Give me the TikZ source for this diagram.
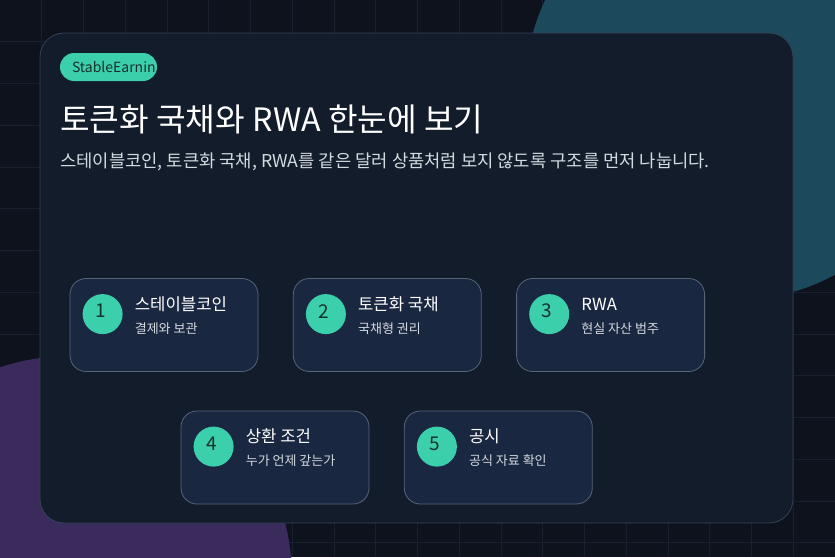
\documentclass[tikz,border=0pt]{standalone}
\usepackage{fontspec}
\setmainfont{Noto Sans CJK KR}
\usetikzlibrary{positioning,calc}

\definecolor{bgdark}{HTML}{0D121C}
\definecolor{gridcol}{HTML}{182030}
\definecolor{tealblob}{HTML}{1C4A5C}
\definecolor{purpleblob}{HTML}{3A2B5C}
\definecolor{cardfill}{HTML}{131C2A}
\definecolor{cardline}{HTML}{334159}
\definecolor{boxfill}{HTML}{1A2740}
\definecolor{boxline}{HTML}{56647A}
\definecolor{mint}{HTML}{3CCFAB}
\definecolor{numink}{HTML}{16302C}
\definecolor{subink}{HTML}{D3D9E1}

\begin{document}
\begin{tikzpicture}[
    x=1pt, y=-1pt,
    gridline/.style={draw=gridcol, line width=0.6pt},
    card/.style={rectangle, draw=cardline, fill=cardfill, rounded corners=24pt, minimum width=753pt, minimum height=490pt, line width=0.8pt},
    tag/.style={rectangle, fill=mint, rounded corners=14pt, minimum height=28pt, inner xsep=12pt, text width=73pt, align=left, text=numink, font=\fontsize{14}{16}\selectfont},
    stepbox/.style={rectangle, draw=boxline, fill=boxfill, rounded corners=16pt, minimum width=188pt, minimum height=93pt, line width=0.8pt},
    numdot/.style={circle, fill=mint, minimum size=40pt, inner sep=0pt},
    numtxt/.style={inner sep=0pt, text=numink, font=\fontsize{19}{21}\selectfont},
    boxhead/.style={anchor=base west, inner sep=0pt, text=white, font=\fontsize{16.7}{19}\selectfont},
    boxsub/.style={anchor=base west, inner sep=0pt, text=subink, font=\fontsize{13}{15}\selectfont}
]
\useasboundingbox (0,0) rectangle (835,557);
\clip (0,0) rectangle (835,557);

% backdrop: grid and two soft blobs
\fill[bgdark] (0,0) rectangle (835,557);
\foreach \i in {1,...,19} \draw[gridline] (\i*41.75,0) -- (\i*41.75,557);
\foreach \j in {1,...,13} \draw[gridline] (0,\j*41.75) -- (835,\j*41.75);
\fill[tealblob] (735,90) circle (210);
\fill[purpleblob] (70,578) circle (222);

% card with header
\node[card] (card) at (416.5,278) {};
\node[tag] (tag) at (108.5,67) {StableEarnin};
\node[anchor=base west, inner sep=0pt, text=white, font=\fontsize{32.2}{36}\selectfont] (title) at (60,131) {토큰화 국채와 RWA 한눈에 보기};
\node[anchor=base west, inner sep=0pt, text=subink, font=\fontsize{17.7}{21}\selectfont] (subtitle) at (60,167) {스테이블코인, 토큰화 국채, RWA를 같은 달러 상품처럼 보지 않도록 구조를 먼저 나눕니다.};

% first row
\node[stepbox] (b1) at (164,325) {};
\node[stepbox, right=34.5pt of b1] (b2) {};
\node[stepbox, right=34.5pt of b2] (b3) {};

% second row
\node[stepbox] (b4) at (275,457.5) {};
\node[stepbox, right=34.5pt of b4] (b5) {};

% box contents
\node[numdot] (c1) at ($(b1.north west)+(33,36)$) {};
\node[numtxt] (n1) at ($(c1)+(-2,-3)$) {1};
\node[boxhead] (h1) at ($(b1.north west)+(65,32)$) {스테이블코인};
\node[boxsub] (s1) at ($(b1.north west)+(65,55)$) {결제와 보관};

\node[numdot] (c2) at ($(b2.north west)+(33,36)$) {};
\node[numtxt] (n2) at ($(c2)+(-2,-3)$) {2};
\node[boxhead] (h2) at ($(b2.north west)+(65,32)$) {토큰화 국채};
\node[boxsub] (s2) at ($(b2.north west)+(65,55)$) {국채형 권리};

\node[numdot] (c3) at ($(b3.north west)+(33,36)$) {};
\node[numtxt] (n3) at ($(c3)+(-2,-3)$) {3};
\node[boxhead] (h3) at ($(b3.north west)+(65,32)$) {RWA};
\node[boxsub] (s3) at ($(b3.north west)+(65,55)$) {현실 자산 범주};

\node[numdot] (c4) at ($(b4.north west)+(33,36)$) {};
\node[numtxt] (n4) at ($(c4)+(-2,-3)$) {4};
\node[boxhead] (h4) at ($(b4.north west)+(65,32)$) {상환 조건};
\node[boxsub] (s4) at ($(b4.north west)+(65,55)$) {누가 언제 갚는가};

\node[numdot] (c5) at ($(b5.north west)+(33,36)$) {};
\node[numtxt] (n5) at ($(c5)+(-2,-3)$) {5};
\node[boxhead] (h5) at ($(b5.north west)+(65,32)$) {공시};
\node[boxsub] (s5) at ($(b5.north west)+(65,55)$) {공식 자료 확인};

\end{tikzpicture}
\end{document}
